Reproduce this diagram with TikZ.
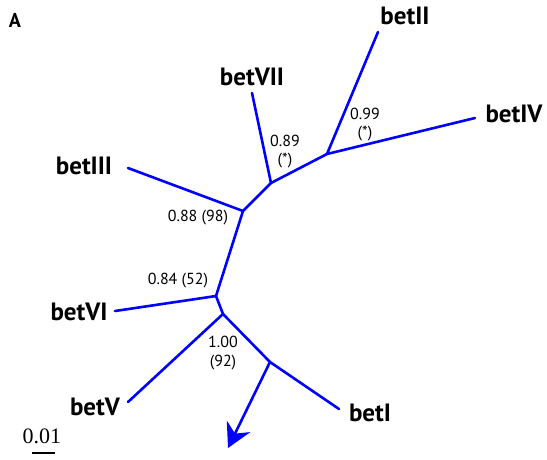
\documentclass[tikz,border=0pt]{standalone}
\usepackage{fontspec}
\setmainfont{PT Sans}
\newfontfamily\scalefont{Liberation Serif}
\usetikzlibrary{arrows.meta}
\definecolor{treeblue}{RGB}{0,0,255}
\begin{document}
\begin{tikzpicture}[x=1pt,y=-1pt,
  branch/.style={draw=treeblue,line width=2.6pt,line cap=round,line join=round},
  leaf/.style={font=\fontsize{25}{27}\selectfont\bfseries,inner sep=0pt},
  support/.style={font=\fontsize{16}{18}\selectfont,inner sep=0pt}]
\useasboundingbox (0,0) rectangle (547,459);
% internal nodes
\coordinate (n1) at (327,154);
\coordinate (n2) at (271,183);
\coordinate (n3) at (243,211);
\coordinate (n4) at (216,296);
\coordinate (n5) at (223,314);
\coordinate (n6) at (270,362);
% leaf ends
\coordinate (eII) at (378,32);
\coordinate (eIV) at (475,118);
\coordinate (eVII) at (252,93);
\coordinate (eIII) at (128,168);
\coordinate (eVI) at (115,311);
\coordinate (eV) at (128,402);
\coordinate (eI) at (339,409);
\coordinate (tip) at (228,448);
% branches
\draw[branch] (eII) -- (n1) -- (eIV);
\draw[branch] (n1) -- (n2) -- (eVII);
\draw[branch] (n2) -- (n3) -- (eIII);
\draw[branch] (n3) -- (n4) -- (eVI);
\draw[branch] (n4) -- (n5) -- (eV);
\draw[branch] (n5) -- (n6) -- (eI);
\draw[branch,-{Stealth[length=24pt,width=26pt,inset=8pt]}] (n6) -- (tip);
% leaf labels
\node[leaf] (lII) at (405,16) {betII};
\node[leaf] (lIV) at (514,114) {betIV};
\node[leaf] (lVII) at (252,77) {betVII};
\node[leaf] (lIII) at (84,166) {betIII};
\node[leaf] (lVI) at (79,312) {betVI};
\node[leaf] (lV) at (95,407) {betV};
\node[leaf] (lI) at (370,413) {betI};
\node[font=\fontsize{20}{22}\selectfont\bfseries,inner sep=0pt] (A) at (15,20) {A};
% support values
\node[support] (s1a) at (365,114) {0.99};
\node[support] (s1b) at (365,134) {(*)};
\node[support] (s2a) at (285,141) {0.89};
\node[support] (s2b) at (285,161) {(*)};
\node[support] (s3) at (198,218) {0.88 (98)};
\node[support] (s4) at (178,281) {0.84 (52)};
\node[support] (s5a) at (223,342) {1.00};
\node[support] (s5b) at (223,363) {(92)};
% scale bar
\node[font=\scalefont\fontsize{22}{24}\selectfont,inner sep=0pt] (sc) at (42,436) {0.01};
\coordinate (sb1) at (32,453);
\coordinate (sb2) at (55,453);
\draw[line width=2pt] (sb1) -- (sb2);
\end{tikzpicture}
\end{document}
